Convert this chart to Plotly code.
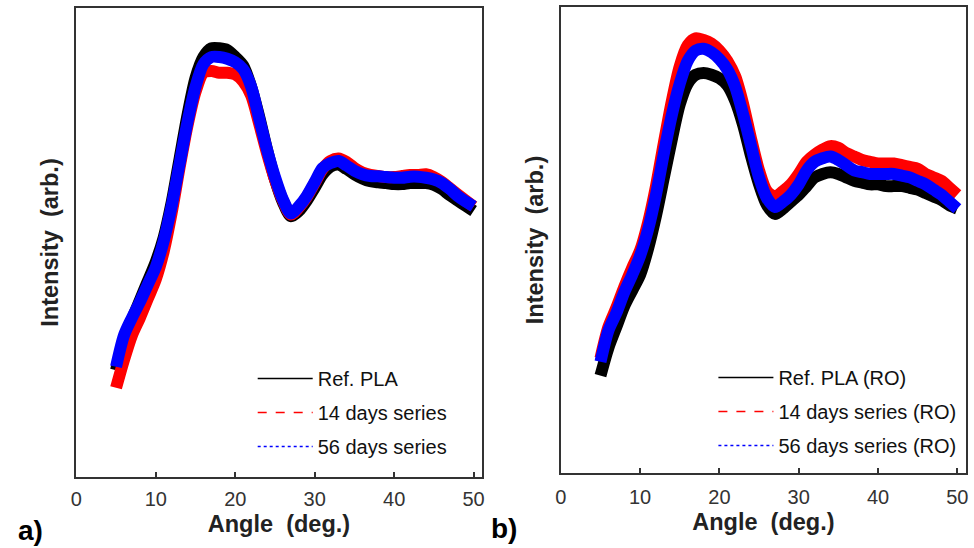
import plotly.graph_objects as go

angle = list(range(5, 51))

# Panel a) intensities (arbitrary units, read from picture)
a_ref = [340, 425, 485, 540, 595, 650, 720, 820, 945, 1070, 1175, 1235, 1260, 1260, 1255, 1235,
         1210, 1150, 1065, 970, 885, 820, 780, 795, 825, 862, 900, 922, 928, 915, 900, 888,
         880, 877, 875, 872, 872, 875, 875, 875, 870, 858, 840, 825, 810, 795]
a_14 = [290, 370, 440, 490, 545, 600, 680, 790, 920, 1040, 1135, 1190, 1195, 1190, 1190, 1185,
        1165, 1125, 1045, 960, 885, 825, 785, 805, 835, 875, 915, 938, 945, 935, 918, 905,
        898, 895, 892, 892, 895, 898, 898, 900, 892, 878, 860, 842, 825, 808]
a_56 = [350, 440, 490, 535, 585, 635, 710, 810, 930, 1050, 1150, 1215, 1235, 1235, 1230, 1220,
        1200, 1150, 1060, 970, 892, 828, 788, 808, 838, 878, 918, 932, 938, 925, 910, 900,
        895, 894, 892, 890, 890, 893, 893, 890, 885, 875, 858, 838, 822, 808]

# Panel b) intensities (RO)
b_ref = [320, 400, 460, 520, 565, 610, 685, 780, 890, 1000, 1100, 1160, 1185, 1190, 1185, 1175,
         1155, 1110, 1040, 950, 870, 810, 785, 800, 820, 840, 865, 890, 900, 905, 900, 890,
         880, 875, 870, 870, 865, 865, 865, 860, 855, 845, 835, 825, 810, 800]
b_14 = [370, 460, 515, 575, 630, 680, 760, 865, 990, 1110, 1210, 1270, 1290, 1285, 1275, 1255,
        1225, 1180, 1100, 1000, 910, 850, 835, 850, 870, 900, 935, 955, 970, 980, 975, 960,
        950, 940, 935, 930, 930, 930, 925, 920, 915, 900, 890, 880, 860, 840]
b_56 = [360, 450, 500, 560, 610, 665, 740, 840, 960, 1070, 1160, 1225, 1255, 1260, 1250, 1230,
        1200, 1150, 1070, 980, 890, 830, 805, 820, 840, 870, 910, 935, 945, 950, 940, 925,
        910, 905, 900, 900, 900, 900, 895, 890, 880, 870, 855, 840, 820, 800]

names_a = ["Ref. PLA", "14 days series", "56 days series"]
names_b = ["Ref. PLA (RO)", "14 days series (RO)", "56 days series (RO)"]
colors = ["#000000", "#ff0000", "#0000ff"]
dashes = ["solid", "dash", "dot"]
xticks = [0, 10, 20, 30, 40, 50]

fig = go.Figure()

FONT = "Liberation Sans, Arial, sans-serif"

for series, xa, ya in [((a_ref, a_14, a_56), "x", "y"), ((b_ref, b_14, b_56), "x2", "y2")]:
    for vals, c in zip(series, colors):
        fig.add_trace(go.Scatter(x=angle, y=vals, mode="lines", xaxis=xa, yaxis=ya,
                                 line=dict(color=c, width=12, shape="spline", smoothing=0.8),
                                 showlegend=False, hoverinfo="skip"))

for names, lg, xa, ya in [(names_a, "legend", "x", "y"), (names_b, "legend2", "x2", "y2")]:
    for i, (n, c, d) in enumerate(zip(names, colors, dashes)):
        fig.add_trace(go.Scatter(x=[None], y=[None], mode="lines", name=n, xaxis=xa, yaxis=ya,
                                 line=dict(color=c, width=1.6, dash=d), legend=lg,
                                 legendgroup=lg + str(i)))

axis_common = dict(showline=True, mirror=True, linecolor="#333333", linewidth=2,
                   showgrid=False, zeroline=False)
title_font = dict(size=23.5, color="#222222")

fig.update_layout(
    width=974, height=548, margin=dict(l=0, r=0, t=0, b=0),
    paper_bgcolor="white", plot_bgcolor="white",
    font=dict(family=FONT, size=20, color="#222222"),
    xaxis=dict(domain=[71/974, 480/974], range=[0, 51], tickvals=xticks,
               ticks="inside", ticklen=5, tickwidth=1.5, tickcolor="#333333",
               tickfont=dict(size=20, color="#333333"), ticklabelstandoff=3,
               title=dict(text="<b>Angle  (deg.)</b>", font=title_font, standoff=7),
               anchor="y", **axis_common),
    yaxis=dict(domain=[1-477/548, 1-8/548], range=[35, 1375], showticklabels=False, ticks="",
               title=dict(text="<b>Intensity  (arb.)</b>", font=title_font, standoff=9),
               anchor="x", **axis_common),
    xaxis2=dict(domain=[560/974, 969/974], range=[0, 51.1], tickvals=xticks,
                ticks="inside", ticklen=5, tickwidth=1.5, tickcolor="#333333",
                tickfont=dict(size=20, color="#333333"), ticklabelstandoff=5,
                title=dict(text="<b>Angle  (deg.)</b>", font=title_font, standoff=7),
                anchor="y2", **axis_common),
    yaxis2=dict(domain=[1-473/548, 1-7/548], range=[40, 1380], showticklabels=False, ticks="",
                title=dict(text="<b>Intensity  (arb.)</b>", font=title_font, standoff=9),
                anchor="x2", **axis_common),
    legend=dict(x=249/974, xanchor="left", y=1-359/548, yanchor="top", bgcolor="rgba(0,0,0,0)",
                font=dict(size=20, color="#111111"), tracegroupgap=5, itemwidth=55),
    legend2=dict(x=714/974, xanchor="left", y=1-358/548, yanchor="top", bgcolor="rgba(0,0,0,0)",
                 font=dict(size=20, color="#111111"), tracegroupgap=5, itemwidth=55),
    annotations=[
        dict(text="<b>a)</b>", x=10/974, y=1-530/548, xref="paper", yref="paper", xanchor="left",
             yanchor="middle", showarrow=False, font=dict(size=28, color="#000000")),
        dict(text="<b>b)</b>", x=487/974, y=1-528/548, xref="paper", yref="paper", xanchor="left",
             yanchor="middle", showarrow=False, font=dict(size=28, color="#000000")),
    ],
)

fig.write_html("out.html")
